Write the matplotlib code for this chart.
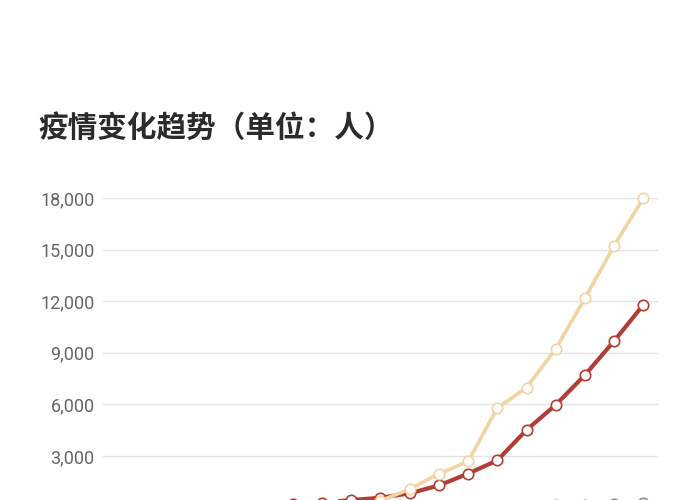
import matplotlib
matplotlib.use('Agg')
import matplotlib.pyplot as plt
from matplotlib.ticker import FuncFormatter

plt.rcParams['font.family'] = ['Roboto', 'Noto Sans CJK SC', 'DejaVu Sans']

# ---------- 数据（1月13日 - 1月31日） ----------
dates = ['1/13', '1/14', '1/15', '1/16', '1/17', '1/18', '1/19', '1/20', '1/21', '1/22',
         '1/23', '1/24', '1/25', '1/26', '1/27', '1/28', '1/29', '1/30', '1/31']
confirmed = [41, 41, 41, 45, 62, 121, 198, 291, 440, 571,
             830, 1287, 1975, 2744, 4515, 5974, 7711, 9692, 11791]
suspected = [0, 0, 0, 0, 0, 0, 0, 0, 0, 393,
             1072, 1965, 2684, 5794, 6973, 9239, 12167, 15238, 17988]
deaths = [1, 1, 1, 2, 2, 3, 3, 6, 9, 17,
          25, 41, 56, 80, 106, 132, 170, 213, 259]

yticks = [3000, 6000, 9000, 12000, 15000, 18000]

# ---------- 配色 ----------
RED = '#b33c36'
TAN = '#f2d3a3'
GRAY = '#8c8c8c'
GRID = '#e3e3e3'
TXT = '#666666'

fig = plt.figure(figsize=(7, 5), dpi=100, facecolor='white')
ax = fig.add_axes([0.147, -0.0152, 0.793, 0.6192])
ax.set_facecolor('white')

x = list(range(len(dates)))
for vals, col, lw in [(deaths, GRAY, 2.2), (confirmed, RED, 3.0), (suspected, TAN, 2.6)]:
    ax.plot(x, vals, color=col, lw=lw, marker='o', markersize=7.5,
            markerfacecolor='white', markeredgecolor=col, markeredgewidth=1.2,
            clip_on=False, zorder=3)

ax.set_xlim(-0.5, len(dates) - 0.5)
ax.set_ylim(0, 18000)
ax.set_yticks(yticks)
ax.yaxis.set_major_formatter(FuncFormatter(lambda v, p: f'{int(v):,}'))
ax.tick_params(axis='y', length=0, pad=6, labelsize=13, labelcolor=TXT)
ax.set_xticks([])
ax.grid(axis='y', color=GRID, lw=1)
ax.set_axisbelow(True)
for s in ax.spines.values():
    s.set_visible(False)

# 标题
fig.text(38 / 700, 1 - 128 / 500, '疫情变化趋势（单位：人）',
         ha='left', va='center', fontsize=21.3, weight='bold', color='#2b2b2b',
         family=['Noto Sans CJK SC', 'DejaVu Sans'])

fig.savefig('out.png', dpi=100, facecolor='white')
